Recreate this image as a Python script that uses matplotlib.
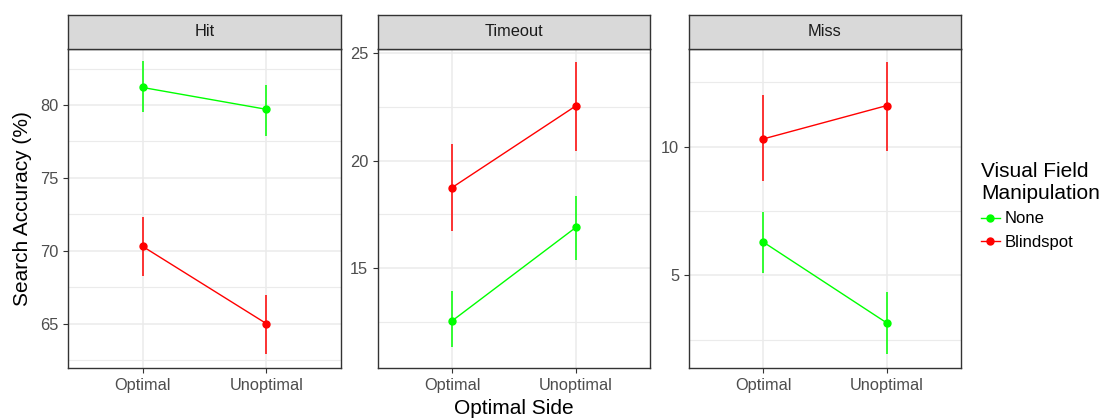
import matplotlib
matplotlib.use('Agg')
import matplotlib.pyplot as plt
from matplotlib.ticker import MultipleLocator

plt.rcParams['font.family'] = ['Liberation Sans', 'DejaVu Sans']

#----------------------------------------------------------------------

sides = ['Optimal', 'Unoptimal']
panels = ['Hit', 'Timeout', 'Miss']
groups = ['None', 'Blindspot']
group_colors = {'None': '#00FF00', 'Blindspot': '#FF0000'}

# mean accuracy, lower and upper error bound per panel
hit_none = [81.2, 79.7]
hit_none_lo = [79.5, 77.9]
hit_none_hi = [83.0, 81.4]
hit_blind = [70.3, 65.0]
hit_blind_lo = [68.3, 62.9]
hit_blind_hi = [72.3, 67.0]

timeout_none = [12.55, 16.9]
timeout_none_lo = [11.35, 15.4]
timeout_none_hi = [13.95, 18.35]
timeout_blind = [18.75, 22.55]
timeout_blind_lo = [16.75, 20.45]
timeout_blind_hi = [20.8, 24.6]

miss_none = [6.3, 3.15]
miss_none_lo = [5.1, 1.95]
miss_none_hi = [7.45, 4.35]
miss_blind = [10.3, 11.6]
miss_blind_lo = [8.65, 9.85]
miss_blind_hi = [12.0, 13.3]

ylims = {'Hit': (61.96, 83.86), 'Timeout': (10.36, 25.21), 'Miss': (1.40, 13.81)}
ymajor = {'Hit': 5, 'Timeout': 5, 'Miss': 5}

data = {
	'Hit': {'None': (hit_none, hit_none_lo, hit_none_hi),
	        'Blindspot': (hit_blind, hit_blind_lo, hit_blind_hi)},
	'Timeout': {'None': (timeout_none, timeout_none_lo, timeout_none_hi),
	            'Blindspot': (timeout_blind, timeout_blind_lo, timeout_blind_hi)},
	'Miss': {'None': (miss_none, miss_none_lo, miss_none_hi),
	         'Blindspot': (miss_blind, miss_blind_lo, miss_blind_hi)},
}

#----------------------------------------------------------------------

def draw_panel(fig, rect, name):
	left, bottom, width, height = rect
	ax = fig.add_axes(rect)
	strip = fig.add_axes([left, bottom + height, width, 0.0813])

	x = range(len(sides))
	handles = []
	for g in groups:
		mean, lo, hi = data[name][g]
		c = group_colors[g]
		ax.vlines(x, lo, hi, color=c, linewidth=1.1, zorder=3)
		h, = ax.plot(x, mean, color=c, linewidth=1.0, marker='o', markersize=5, zorder=4, label=g)
		handles.append(h)

	ax.set_xlim(-0.6, 1.6)
	ax.set_ylim(*ylims[name])
	ax.set_xticks(list(x))
	ax.set_xticklabels(sides)
	ax.yaxis.set_major_locator(MultipleLocator(ymajor[name]))
	ax.yaxis.set_minor_locator(MultipleLocator(ymajor[name] / 2))

	ax.grid(True, which='major', color='#EBEBEB', linewidth=1.1, zorder=0)
	ax.grid(True, which='minor', axis='y', color='#EBEBEB', linewidth=0.8, zorder=0)
	ax.set_axisbelow(True)
	ax.tick_params(axis='both', which='major', labelsize=11.8, labelcolor='#4D4D4D',
	               color='#333333', length=3.5, width=0.8)
	ax.tick_params(axis='y', which='minor', length=0)
	for s in ax.spines.values():
		s.set_color('#333333')
		s.set_linewidth(1.0)

	strip.set_facecolor('#D9D9D9')
	strip.set_xticks([])
	strip.set_yticks([])
	for s in strip.spines.values():
		s.set_color('#333333')
		s.set_linewidth(1.0)
	strip.text(0.5, 0.5, name, ha='center', va='center', fontsize=11.8, color='#1A1A1A',
	           transform=strip.transAxes)
	return ax, handles

#----------------------------------------------------------------------

def main():
	fig = plt.figure(figsize=(10.99, 4.19), dpi=100)

	lefts = [0.0622, 0.3437, 0.6267]
	width = 0.2479
	bottom = 0.1217
	height = 0.7621

	axes = []
	for left, name in zip(lefts, panels):
		ax, handles = draw_panel(fig, [left, bottom, width, height], name)
		axes.append(ax)

	axes[0].set_ylabel('Search Accuracy (%)', fontsize=15, labelpad=6)
	fig.text(0.4675, 0.025, 'Optimal Side', ha='center', va='center', fontsize=15)

	leg = fig.legend(handles=handles, labels=groups, title='Visual Field\nManipulation',
	                 loc='upper left', bbox_to_anchor=(0.8925, 0.613), frameon=False,
	                 fontsize=12, title_fontsize=15, handlelength=1.15, handletextpad=0.3,
	                 labelspacing=0.5, borderaxespad=0, borderpad=0, alignment='left')

	fig.savefig('out.png', dpi=100)

#----------------------------------------------------------------------

if __name__ == '__main__':
	main()
